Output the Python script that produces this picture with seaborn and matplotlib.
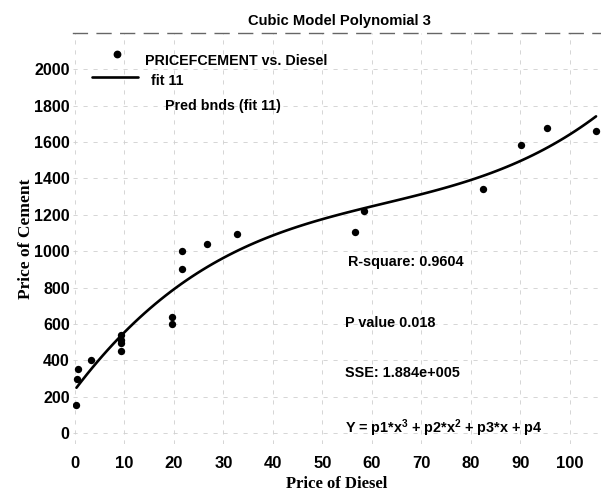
import matplotlib
matplotlib.use("Agg")
import matplotlib.pyplot as plt
import seaborn as sns
import pandas as pd
from matplotlib.lines import Line2D

# Observed prices: diesel vs. cement
diesel = [0.3, 0.5, 0.6, 3.2, 9.2, 9.2, 9.2, 9.2, 19.7, 19.7, 21.7, 21.7,
          26.7, 32.7, 56.5, 58.4, 82.4, 90.2, 95.4, 105.3]
cement = [155, 300, 350, 400, 540, 510, 495, 450, 640, 600, 900, 1000,
          1040, 1095, 1105, 1220, 1340, 1585, 1675, 1660]

x_ticks = [0, 10, 20, 30, 40, 50, 60, 70, 80, 90, 100]
y_ticks = [0, 200, 400, 600, 800, 1000, 1200, 1400, 1600, 1800, 2000]

stats_lines = ["R-square: 0.9604", "P value 0.018", "SSE: 1.884e+005",
               "Y = p1*x$^3$ + p2*x$^2$ + p3*x + p4"]

sns.set_style("white")
plt.rcParams["font.family"] = ["Liberation Sans", "DejaVu Sans"]
plt.rcParams["text.color"] = "black"
plt.rcParams["axes.labelcolor"] = "black"
plt.rcParams["mathtext.fontset"] = "custom"
plt.rcParams["mathtext.rm"] = "Liberation Sans:bold"
plt.rcParams["mathtext.it"] = "Liberation Sans:bold"

df = pd.DataFrame({"Diesel": diesel, "Cement": cement})

W, H = 601, 500
fig = plt.figure(figsize=(W / 100, H / 100), dpi=100)
ax = fig.add_axes([72.5 / W, 1 - 444 / H, (W - 72.5) / W, (444 - 33) / H])

sns.regplot(data=df, x="Diesel", y="Cement", order=3, ci=None, ax=ax,
            scatter_kws=dict(s=28, color="black", alpha=1, linewidths=0, zorder=3),
            line_kws=dict(color="black", lw=1.9, zorder=2))

ax.set_xlim(-0.5, 106.3)
ax.set_ylim(-60, 2200)
ax.set_xticks(x_ticks)
ax.set_yticks(y_ticks)
ax.set_xticklabels([str(v) for v in x_ticks], fontsize=12, fontweight="bold")
ax.set_yticklabels([str(v) for v in y_ticks], fontsize=11.5, fontweight="bold")
ax.tick_params(axis="y", direction="in", length=5, width=1.2, pad=2, colors="black")
ax.tick_params(axis="x", direction="in", length=3, width=1, pad=9, colors="black")

ax.grid(True, color="#cfcfcf", lw=0.6, linestyle=(0, (5, 7)))
for side in ["left", "right", "bottom"]:
    ax.spines[side].set_visible(False)
ax.spines["top"].set_linestyle((0, (10, 7)))
ax.spines["top"].set_color("#666666")
ax.spines["top"].set_linewidth(1.0)

ax.set_xlabel("Price of Diesel", family="Liberation Serif", fontweight="bold",
              fontsize=12, labelpad=3)
ax.set_ylabel("Price of Cement", family="Liberation Serif", fontweight="bold",
              fontsize=12.5, labelpad=0)

fig.text(0.5 * (248 + 430) / W, 1 - 21 / H, "Cubic Model Polynomial 3",
         ha="center", va="center", fontsize=10.6, fontweight="bold")

# Legend entries
fig.add_artist(Line2D([117 / W], [1 - 54 / H], marker="o", markersize=4.6,
                      color="black", linestyle="none"))
fig.text(145 / W, 1 - 61 / H, "PRICEFCEMENT vs. Diesel", ha="left", va="center",
         fontsize=10.3, fontweight="bold")
fig.add_artist(Line2D([92 / W, 138 / W], [1 - 77 / H, 1 - 77 / H], color="black", lw=1.9))
fig.text(151 / W, 1 - 81 / H, "fit 11", ha="left", va="center", fontsize=10.3,
         fontweight="bold")
fig.text(165 / W, 1 - 106 / H, "Pred bnds (fit 11)", ha="left", va="center",
         fontsize=10.3, fontweight="bold")

# Fit statistics
for txt, (px, py) in zip(stats_lines, [(348, 262), (345, 323), (345, 373), (345, 428)]):
    fig.text(px / W, 1 - py / H, txt, ha="left", va="center", fontsize=10.4,
             fontweight="bold")

fig.savefig("out.png", dpi=100, facecolor="white")
